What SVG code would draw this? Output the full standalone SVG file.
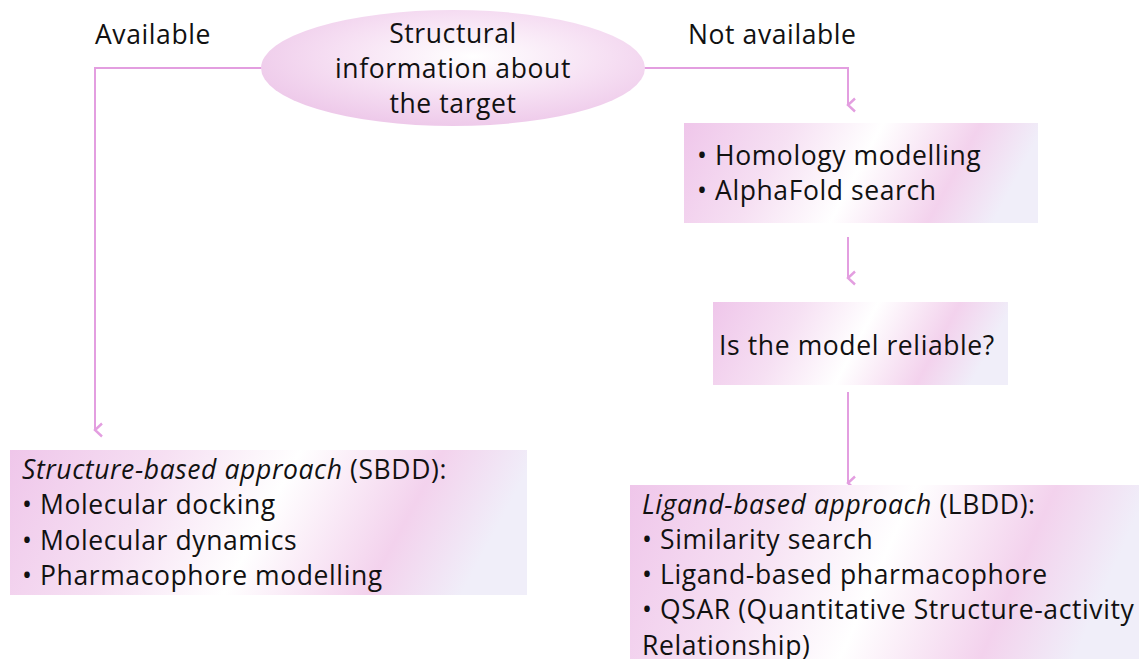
<svg xmlns="http://www.w3.org/2000/svg" width="1139" height="659" viewBox="0 0 1139 659">
  <style>
    .t { font-family: "Open Sans", "Liberation Sans", sans-serif; font-size: 26.5px; letter-spacing: 0.6px; fill: #111; }
    .c { text-anchor: middle; }
    .link { fill: none; stroke: #e39ee0; stroke-width: 2; }
  </style>
  <defs>
    <linearGradient id="pinkFill" x1="0" y1="0" x2="1" y2="0.15">
      <stop offset="0" stop-color="#efc6ea"/>
      <stop offset="0.3" stop-color="#f6e0f3"/>
      <stop offset="0.55" stop-color="#ffffff"/>
      <stop offset="0.82" stop-color="#f3d2ed"/>
      <stop offset="1" stop-color="#f0eef9"/>
    </linearGradient>
    <radialGradient id="ovalFill" cx="0.55" cy="0.4" r="0.6">
      <stop offset="0" stop-color="#ffffff"/>
      <stop offset="0.6" stop-color="#f6dff3"/>
      <stop offset="1" stop-color="#eecaea"/>
    </radialGradient>
    <marker id="vee" markerWidth="16" markerHeight="16" refX="8" refY="13" orient="auto" markerUnits="userSpaceOnUse">
      <path d="M1.5,6 L8,13 L14.5,6" fill="none" stroke="#e39ee0" stroke-width="2.4"/>
    </marker>
  </defs>

  <!-- connectors -->
  <g id="connectors">
    <path class="link" d="M262,68 H95 V430" marker-end="url(#vee)"/>
    <path class="link" d="M644,68 H848 V105" marker-end="url(#vee)"/>
    <path class="link" d="M848,237 V278" marker-end="url(#vee)"/>
    <path class="link" d="M848,392 V483" marker-end="url(#vee)"/>
  </g>

  <!-- branch labels -->
  <g id="labels">
    <text class="t" x="95" y="44">Available</text>
    <text class="t" x="688" y="44">Not available</text>
  </g>

  <g id="target">
    <ellipse cx="453" cy="68" rx="192" ry="58" fill="url(#ovalFill)"/>
    <text class="t c" x="453" y="43">Structural</text>
    <text class="t c" x="453" y="78">information about</text>
    <text class="t c" x="453" y="113">the target</text>
  </g>

  <g id="modelling">
    <rect x="684" y="123" width="354" height="100" fill="url(#pinkFill)"/>
    <text class="t" x="697" y="165">• Homology modelling</text>
    <text class="t" x="697" y="200">• AlphaFold search</text>
  </g>

  <g id="reliable">
    <rect x="713" y="302" width="295" height="83" fill="url(#pinkFill)"/>
    <text class="t c" x="857" y="355">Is the model reliable?</text>
  </g>

  <g id="sbdd">
    <rect x="10" y="450" width="517" height="145" fill="url(#pinkFill)"/>
    <text class="t" x="22" y="479"><tspan font-style="italic">Structure-based approach</tspan> (SBDD):</text>
    <text class="t" x="22" y="514">• Molecular docking</text>
    <text class="t" x="22" y="550">• Molecular dynamics</text>
    <text class="t" x="22" y="585">• Pharmacophore modelling</text>
  </g>

  <g id="lbdd">
    <rect x="630" y="485" width="509" height="174" fill="url(#pinkFill)"/>
    <text class="t" x="642" y="514"><tspan font-style="italic">Ligand-based approach</tspan> (LBDD):</text>
    <text class="t" x="642" y="549">• Similarity search</text>
    <text class="t" x="642" y="584">• Ligand-based pharmacophore</text>
    <text class="t" x="642" y="619">• QSAR (Quantitative Structure-activity</text>
    <text class="t" x="642" y="655">Relationship)</text>
  </g>
</svg>
